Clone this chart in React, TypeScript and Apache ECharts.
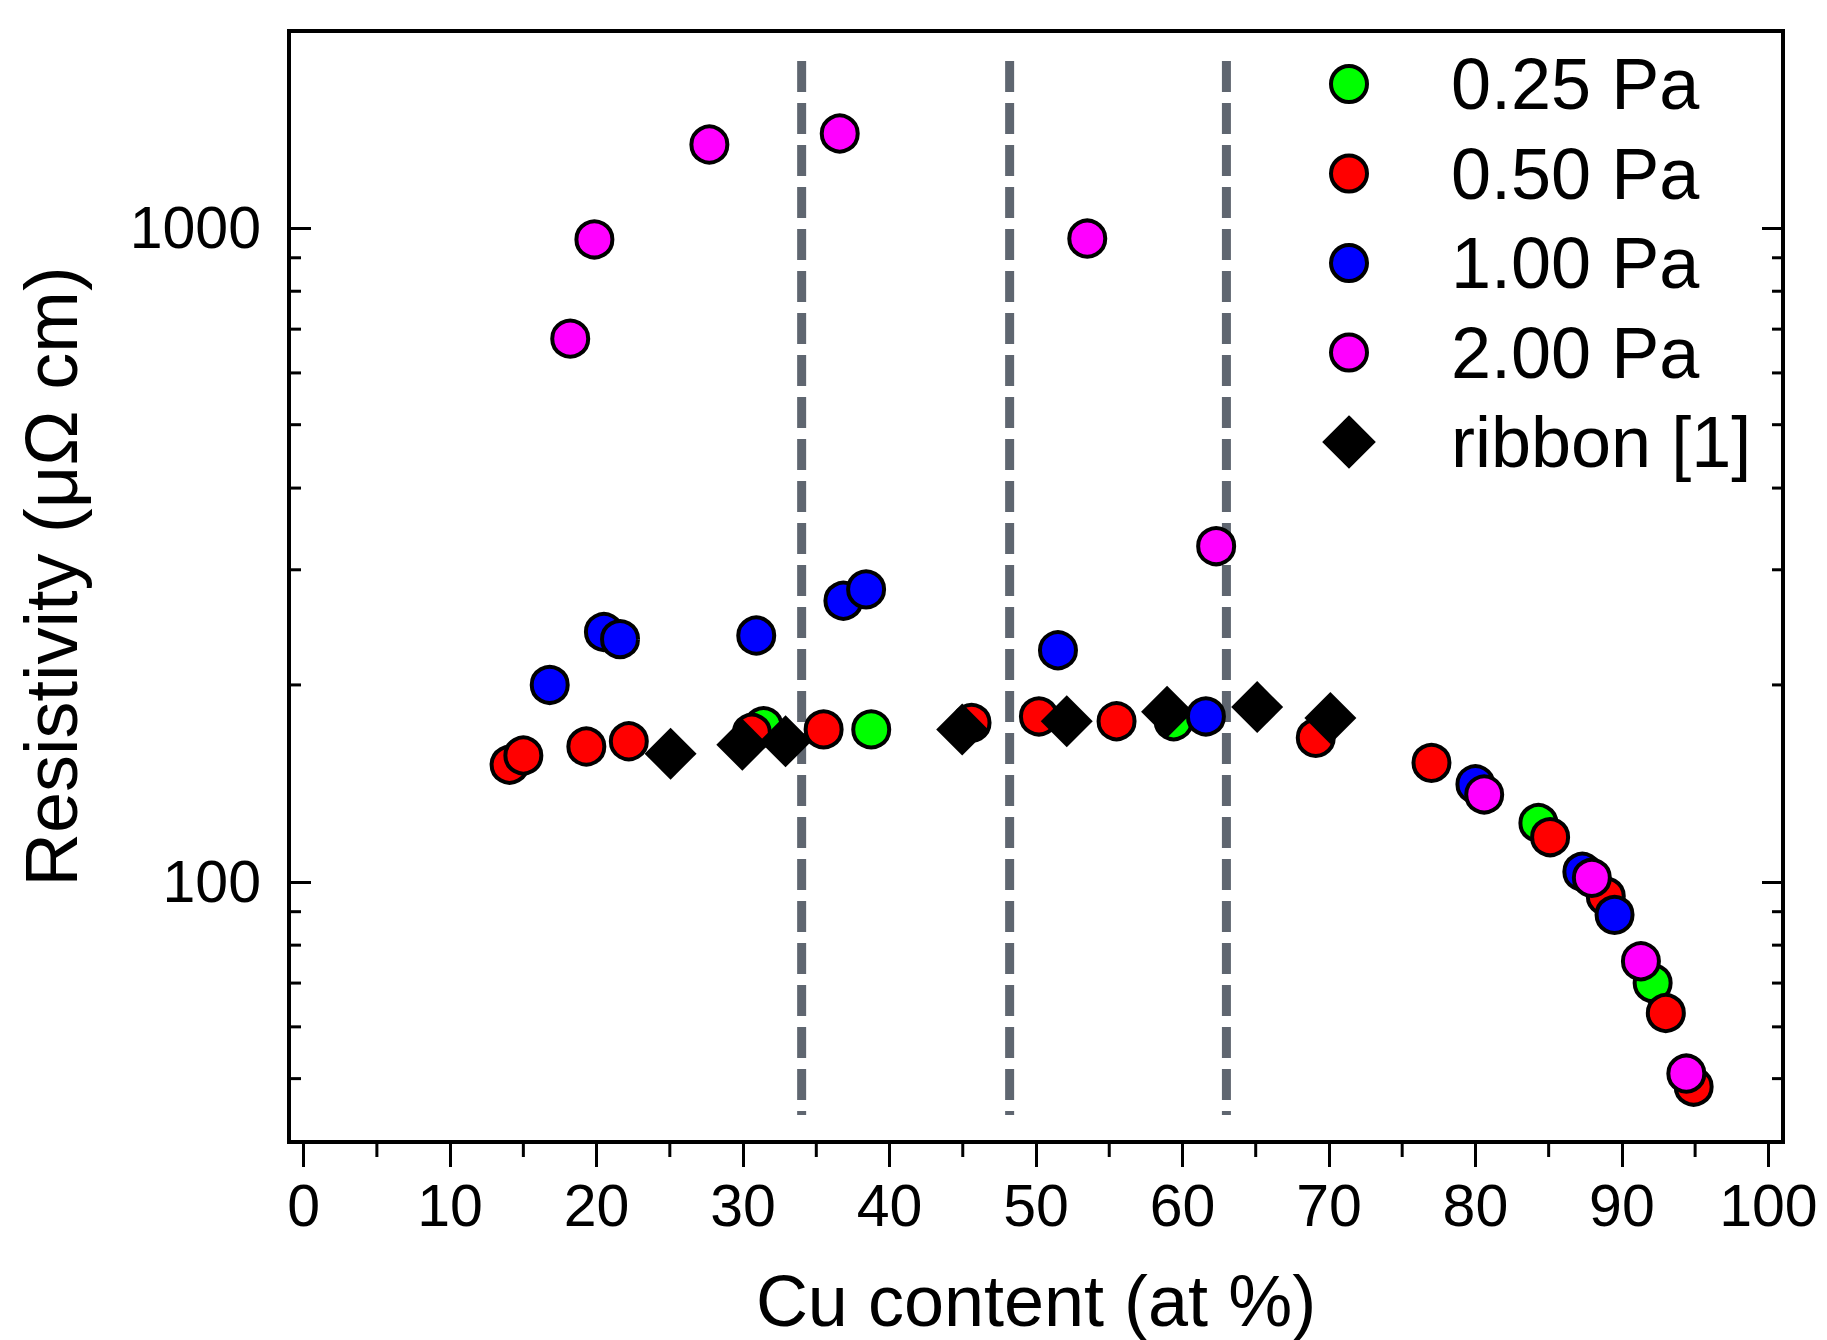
import React, { useEffect, useRef } from "react";
import * as echarts from "echarts";

// ---- axis ticks ----
const xTicks = [0, 10, 20, 30, 40, 50, 60, 70, 80, 90, 100];
const xMinorTicks = [5, 15, 25, 35, 45, 55, 65, 75, 85, 95];
const yMinorTicks = [50, 60, 70, 80, 90, 200, 300, 400, 500, 600, 700, 800, 900];

// ---- dashed phase boundaries (Cu at %) ----
const boundaries = [34, 48.2, 63];
const boundaryTop = 1800;
const boundaryBottom = 44;

// ---- series: Cu content (at %) and resistivity (µΩ cm) ----
const cu025 = [31.4, 38.75, 59.4, 84.3, 92.1];
const rho025 = [173, 171, 176, 123, 70];

const cu050 = [14.06, 15.0, 19.3, 22.2, 30.6, 35.5, 45.6, 50.2, 55.5, 69.1, 77.0, 85.1, 88.9, 93.0, 94.9];
const rho050 = [151, 156, 161, 164, 169, 171, 175, 179, 176, 166, 152, 117, 95, 63, 48.6];

const cu100 = [16.8, 20.5, 21.6, 30.9, 36.85, 38.4, 51.5, 61.6, 80.0, 87.3, 89.5];
const rho100 = [200, 241, 235, 238, 269, 280, 226, 179, 141, 103.6, 89];

const cu200 = [18.2, 19.85, 27.7, 36.6, 53.5, 62.3, 80.6, 87.95, 91.3, 94.4];
const rho200 = [677, 960, 1341, 1394, 963, 326, 136, 101.4, 75.6, 50.9];

const cuRibbon = [25.05, 29.95, 32.9, 44.96, 52.1, 58.95, 65.1, 70.1];
const rhoRibbon = [157, 162, 164, 171, 176, 182, 185, 178];

const legendNames = ["0.25 Pa", "0.50 Pa", "1.00 Pa", "2.00 Pa", "ribbon [1]"];

const FONT = "'Liberation Sans', Arial, Helvetica, sans-serif";

// legend icons: invisible move-to points pad the icon box so circles and diamond keep their own sizes
const LEGEND_CIRCLE = "path://M0,-26 M0,26 M-18,0 A18,18 0 1,1 18,0 A18,18 0 1,1 -18,0 Z";
const LEGEND_DIAMOND = "path://M0,-26 M0,26 M0,-24 L24,0 L0,24 L-24,0 Z";

const pairs = (xs: number[], ys: number[]) => xs.map((x, i) => [x, ys[i]]);

function circleSeries(name: string, color: string, xs: number[], ys: number[]) {
  return {
    type: "scatter",
    name,
    data: pairs(xs, ys),
    symbol: "circle",
    symbolSize: 36,
    itemStyle: { color, borderColor: "#000", borderWidth: 4, opacity: 1 },
    z: 3,
  };
}

function buildOption() {
  const dashed = boundaries.map((b) => ({
    type: "line",
    name: "boundary-" + b,
    data: [
      [b, boundaryTop],
      [b, boundaryBottom],
    ],
    symbol: "none",
    silent: true,
    lineStyle: { color: "#5f6670", width: 9, type: [31, 11], cap: "butt" },
    z: 2,
  }));

  const yMinorSeries = {
    type: "custom",
    name: "yMinor",
    silent: true,
    z: 6,
    data: yMinorTicks.map((v) => [50, v]),
    renderItem: (params: any, api: any) => {
      const cs = params.coordSys;
      const p = api.coord([api.value(0), api.value(1)]);
      return {
        type: "group",
        children: [
          {
            type: "line",
            shape: { x1: cs.x, y1: p[1], x2: cs.x + 12, y2: p[1] },
            style: { stroke: "#000", lineWidth: 3 },
          },
          {
            type: "line",
            shape: { x1: cs.x + cs.width - 11, y1: p[1], x2: cs.x + cs.width, y2: p[1] },
            style: { stroke: "#000", lineWidth: 3 },
          },
        ],
      };
    },
  };

  const xMinorSeries = {
    type: "custom",
    name: "xMinor",
    silent: true,
    z: 6,
    data: xMinorTicks.map((v) => [v, 100]),
    renderItem: (params: any, api: any) => {
      const cs = params.coordSys;
      const p = api.coord([api.value(0), api.value(1)]);
      const yb = cs.y + cs.height;
      return {
        type: "line",
        shape: { x1: p[0], y1: yb, x2: p[0], y2: yb + 15 },
        style: { stroke: "#000", lineWidth: 3 },
      };
    },
  };

  return {
    animation: false,
    backgroundColor: "#fff",
    grid: {
      left: 289,
      right: 44,
      top: 31,
      bottom: 198,
      show: true,
      borderColor: "#000",
      borderWidth: 4,
      backgroundColor: "transparent",
      outerBoundsMode: "none",
      containLabel: false,
    },
    legend: {
      orient: "vertical",
      left: 1323,
      top: 48,
      padding: 0,
      itemWidth: 194,
      itemHeight: 52,
      itemGap: 17.5,
      selectedMode: false,
      data: [
        { name: legendNames[0], icon: LEGEND_CIRCLE },
        { name: legendNames[1], icon: LEGEND_CIRCLE },
        { name: legendNames[2], icon: LEGEND_CIRCLE },
        { name: legendNames[3], icon: LEGEND_CIRCLE },
        { name: legendNames[4], icon: LEGEND_DIAMOND },
      ],
      itemStyle: { borderWidth: 4, borderColor: "#000" },
      textStyle: { fontSize: 72, lineHeight: 72, color: "#000", fontFamily: FONT },
    },
    xAxis: [
      {
        type: "value",
        min: -1,
        max: 101,
        position: "bottom",
        axisLine: { show: true, onZero: false, lineStyle: { color: "#000", width: 4 } },
        axisTick: {
          show: true,
          inside: false,
          length: 25,
          customValues: xTicks,
          lineStyle: { color: "#000", width: 3 },
        },
        axisLabel: {
          customValues: xTicks,
          margin: 34,
          fontSize: 59,
          color: "#000",
          fontFamily: FONT,
        },
        splitLine: { show: false },
        name: "Cu content (at %)",
        nameLocation: "middle",
        nameGap: 126,
        nameTextStyle: { fontSize: 72, lineHeight: 66, color: "#000", fontFamily: FONT },
      },
    ],
    yAxis: [
      {
        type: "log",
        logBase: 10,
        min: 40,
        max: 2000,
        position: "left",
        axisLine: { show: true, onZero: false, lineStyle: { color: "#000", width: 4 } },
        axisTick: { show: true, inside: true, length: 22, lineStyle: { color: "#000", width: 3 } },
        axisLabel: {
          showMinLabel: false,
          showMaxLabel: false,
          margin: 28,
          fontSize: 59,
          color: "#000",
          fontFamily: FONT,
          formatter: (v: number) => String(Math.round(v)),
        },
        splitLine: { show: false },
        name: "Resistivity (\u03bc\u03a9 cm)",
        nameLocation: "middle",
        nameGap: 201,
        nameTextStyle: { fontSize: 74, lineHeight: 74, color: "#000", fontFamily: FONT, padding: [0, 0, 0, 20] },
      },
      {
        type: "log",
        logBase: 10,
        min: 40,
        max: 2000,
        position: "right",
        axisLine: { show: true, onZero: false, lineStyle: { color: "#000", width: 4 } },
        axisTick: { show: true, inside: true, length: 21, lineStyle: { color: "#000", width: 3 } },
        axisLabel: { show: false },
        splitLine: { show: false },
      },
    ],
    series: [
      ...dashed,
      circleSeries(legendNames[0], "#00ff00", cu025, rho025),
      circleSeries(legendNames[1], "#ff0000", cu050, rho050),
      {
        type: "scatter",
        name: legendNames[4],
        data: pairs(cuRibbon, rhoRibbon),
        symbol: "diamond",
        symbolSize: 52,
        itemStyle: { color: "#000", borderColor: "#000", borderWidth: 0, opacity: 1 },
        z: 3,
      },
      circleSeries(legendNames[2], "#0000ff", cu100, rho100),
      circleSeries(legendNames[3], "#ff00ff", cu200, rho200),
      yMinorSeries,
      xMinorSeries,
    ],
  };
}

export default function App() {
  const ref = useRef<HTMLDivElement>(null);
  useEffect(() => {
    document.body.style.margin = "0";
    const chart = echarts.init(ref.current as HTMLDivElement, null, { renderer: "svg" });
    chart.setOption(buildOption() as any);
    return () => chart.dispose();
  }, []);
  return <div ref={ref} style={{ width: 1827, height: 1340, background: "#fff" }} />;
}
